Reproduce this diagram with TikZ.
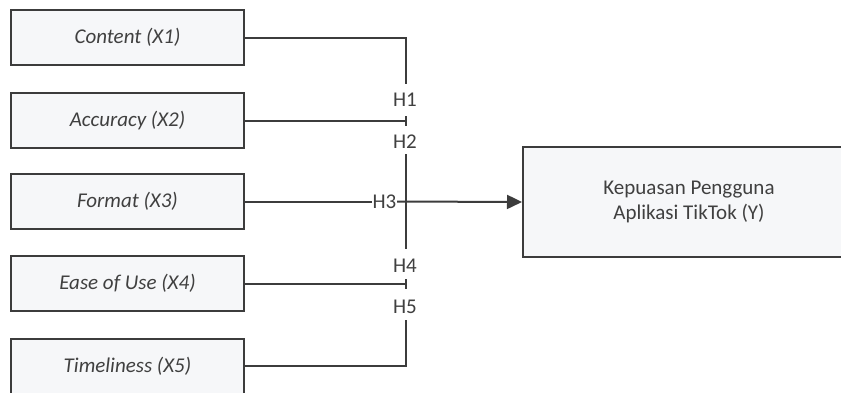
\documentclass[tikz,border=0pt]{standalone}
\usepackage{fontspec}
\setmainfont{Carlito}
\usetikzlibrary{positioning,arrows.meta}
\definecolor{linegray}{RGB}{60,60,60}
\definecolor{textgray}{RGB}{64,64,64}
\definecolor{boxfill}{RGB}{246,247,249}
\tikzset{
	varbox/.style={draw=linegray, fill=boxfill, line width=2pt, minimum width=233pt, minimum height=55pt, inner sep=0pt, font=\fontsize{21}{25}\selectfont\itshape, text=textgray},
	hlabel/.style={inner sep=0.5pt, font=\fontsize{21}{24}\selectfont, text=textgray},
	link/.style={draw=linegray, line width=2pt}
}
\begin{document}
\begin{tikzpicture}[x=1pt,y=-1pt]
	\useasboundingbox [fill=white] (0,0) rectangle (841,392);
	\clip (0,0) rectangle (841,392);
	% Variables
	\node [varbox] (content) at (127.5,37.5) {Content (X1)};
	\node [varbox] (accuracy) at (127.5,120.5) {Accuracy (X2)};
	\node [varbox] (format) at (127.5,201.5) {Format (X3)};
	\node [varbox] (ease) at (127.5,283.5) {Ease of Use (X4)};
	\node [varbox] (timeliness) at (127.5,366) {Timeliness (X5)};
	\node [varbox, font=\fontsize{21}{25}\selectfont, minimum width=332pt, minimum height=110pt, align=center] (kepuasan) at (689,202) {Kepuasan Pengguna\\Aplikasi TikTok (Y)};
	% Hypotheses
	\node [hlabel] (h1) at (405,100) {H1};
	\node [hlabel] (h2) at (405,142) {H2};
	\node [hlabel] (h3) at (384.5,201.5) {H3};
	\node [hlabel] (h4) at (405,266) {H4};
	\node [hlabel] (h5) at (405,307) {H5};
	\coordinate (j1) at (406,84);
	\coordinate (j2) at (406,120.5);
	\coordinate (j3a) at (406,154);
	\coordinate (j3b) at (406,249);
	\coordinate (j4) at (406,283.5);
	\coordinate (j5) at (406,320);
	% Connectors
	\draw [link] (content.east) -| (j1);
	\draw [link] (accuracy.east) -- (j2);\draw [link] ([yshift=-5pt]j2) -- ([yshift=5pt]j2);
	\draw [link] (j3a) -- (j3b);
	\draw [link] (format.east) -- (h3.west);
	\draw [link, -{Triangle[length=15pt,width=14pt]}] (h3.east) -- (kepuasan.west);
	\draw [link] (ease.east) -- (j4);\draw [link] ([yshift=-5pt]j4) -- ([yshift=5pt]j4);
	\draw [link] (timeliness.east) -| (j5);
\end{tikzpicture}
\end{document}
